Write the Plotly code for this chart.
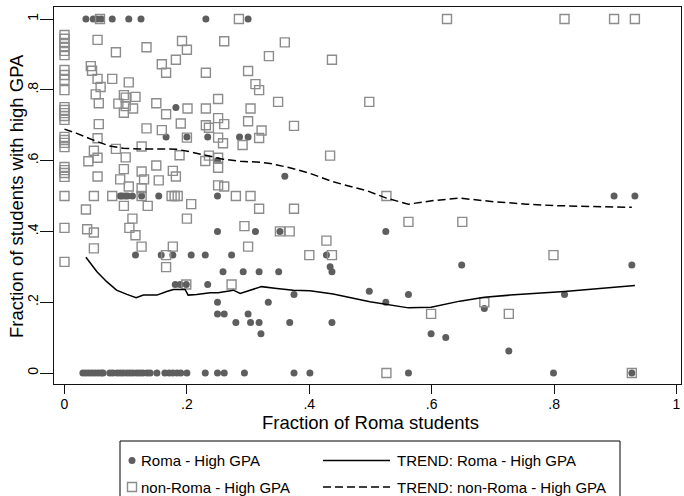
import plotly.graph_objects as go

# ---- data ---------------------------------------------------------------
# Roma students: share with high GPA by class share of Roma students
roma_x = [0.035, 0.047, 0.053, 0.060, 0.078, 0.105, 0.125, 0.231, 0.300,
          0.182,
          0.166, 0.200, 0.234, 0.286, 0.300,
          0.250, 0.360,
          0.091, 0.094, 0.099, 0.103, 0.111, 0.126, 0.154, 0.250,
          0.250, 0.312, 0.352, 0.525,
          0.116, 0.158, 0.177, 0.207, 0.230, 0.273, 0.428,
          0.259, 0.292, 0.318, 0.350, 0.437, 0.434,
          0.181, 0.189, 0.199, 0.234,
          0.498, 0.375, 0.562, 0.817,
          0.250, 0.333, 0.525,
          0.250, 0.261, 0.300,
          0.280, 0.304, 0.318, 0.368, 0.437,
          0.321, 0.686, 0.599, 0.623, 0.726,
          0.649, 0.927, 0.898, 0.932,
          0.030, 0.035, 0.040, 0.045, 0.050, 0.055, 0.060, 0.063, 0.074,
          0.079, 0.086, 0.091, 0.096, 0.102, 0.107, 0.112, 0.118, 0.123,
          0.128, 0.135, 0.140, 0.151, 0.164, 0.171, 0.177, 0.184, 0.190,
          0.200, 0.230, 0.250, 0.261, 0.294, 0.375, 0.401, 0.562, 0.799,
          0.927]
roma_y = [1, 1, 1, 1, 1, 1, 1, 1, 1,
          0.750,
          0.667, 0.667, 0.667, 0.667, 0.667,
          0.600, 0.556,
          0.5, 0.5, 0.5, 0.5, 0.5, 0.5, 0.5, 0.5,
          0.4, 0.4, 0.4, 0.4,
          0.333, 0.333, 0.333, 0.333, 0.333, 0.333, 0.333,
          0.286, 0.286, 0.286, 0.286, 0.286, 0.300,
          0.25, 0.25, 0.25, 0.25,
          0.231, 0.222, 0.222, 0.222,
          0.2, 0.2, 0.2,
          0.167, 0.167, 0.167,
          0.143, 0.143, 0.143, 0.143, 0.143,
          0.111, 0.182, 0.111, 0.100, 0.0625,
          0.305, 0.305, 0.5, 0.5,
          0, 0, 0, 0, 0, 0, 0, 0, 0,
          0, 0, 0, 0, 0, 0, 0, 0, 0,
          0, 0, 0, 0, 0, 0, 0, 0, 0,
          0, 0, 0, 0, 0, 0, 0, 0, 0,
          0]

# non-Roma students
nonroma_x = [0.0] * 26 + [
    0.058, 0.285, 0.625, 0.817, 0.898, 0.932,
    0.054, 0.084, 0.134, 0.192, 0.200, 0.182, 0.159, 0.166, 0.231, 0.043,
    0.045, 0.054, 0.078, 0.105, 0.059, 0.051, 0.056, 0.097, 0.100, 0.116,
    0.088, 0.100, 0.112, 0.097, 0.150, 0.166, 0.201, 0.231, 0.190, 0.056,
    0.134, 0.159, 0.231, 0.236,
    0.261, 0.360, 0.334, 0.437, 0.300, 0.312, 0.318, 0.251, 0.304, 0.349,
    0.498, 0.251, 0.261, 0.300, 0.322, 0.375,
    0.054, 0.048, 0.054, 0.039, 0.084, 0.100, 0.126, 0.188, 0.230, 0.097,
    0.126, 0.150, 0.177, 0.182, 0.054, 0.091, 0.130, 0.154, 0.105, 0.126,
    0.126, 0.078, 0.175, 0.180, 0.185, 0.048, 0.035, 0.097, 0.136, 0.207,
    0.111, 0.200, 0.106, 0.037, 0.048, 0.116, 0.048, 0.126, 0.177, 0.200,
    0.251, 0.259, 0.291, 0.318, 0.434, 0.236, 0.251, 0.251, 0.251, 0.261,
    0.280, 0.304, 0.318, 0.375, 0.294, 0.352, 0.368, 0.428, 0.300,
    0.400, 0.437, 0.273, 0.166, 0.166, 0.199,
    0.526, 0.562, 0.650, 0.799, 0.686, 0.599, 0.726, 0.526, 0.927]
nonroma_y = [0.955, 0.944, 0.932, 0.921, 0.910, 0.898, 0.856, 0.842, 0.828,
             0.799, 0.751, 0.743, 0.734, 0.726, 0.715, 0.667, 0.658, 0.650,
             0.638, 0.582, 0.573, 0.565, 0.554, 0.5, 0.41, 0.314] + [
    1, 1, 1, 1, 1, 1,
    0.941, 0.906, 0.920, 0.938, 0.913, 0.885, 0.872, 0.848, 0.848, 0.867,
    0.854, 0.831, 0.831, 0.821, 0.808, 0.787, 0.762, 0.785, 0.778, 0.780,
    0.761, 0.754, 0.747, 0.735, 0.762, 0.731, 0.747, 0.747, 0.705, 0.703,
    0.691, 0.686, 0.700, 0.693,
    0.937, 0.934, 0.895, 0.885, 0.853, 0.816, 0.799, 0.774, 0.747, 0.766,
    0.766, 0.720, 0.703, 0.711, 0.685, 0.698,
    0.663, 0.628, 0.608, 0.598, 0.633, 0.609, 0.640, 0.615, 0.599, 0.576,
    0.569, 0.586, 0.571, 0.555, 0.555, 0.547, 0.547, 0.544, 0.527, 0.522,
    0.5, 0.5, 0.5, 0.5, 0.5, 0.5, 0.462, 0.472, 0.472, 0.477,
    0.436, 0.436, 0.410, 0.406, 0.397, 0.389, 0.352, 0.357, 0.357, 0.665,
    0.665, 0.649, 0.644, 0.664, 0.614, 0.614, 0.608, 0.580, 0.530, 0.527,
    0.5, 0.5, 0.464, 0.464, 0.415, 0.4, 0.4, 0.374, 0.357,
    0.333, 0.333, 0.25, 0.333, 0.299, 0.25,
    0.5, 0.427, 0.427, 0.333, 0.2, 0.167, 0.167, 0, 0]

# smoothed trends
trend_roma_x = [0.035, 0.053, 0.069, 0.085, 0.102, 0.117, 0.129, 0.151,
                0.167, 0.178, 0.197, 0.202, 0.216, 0.238, 0.251, 0.276,
                0.287, 0.303, 0.322, 0.347, 0.374, 0.401, 0.439, 0.499,
                0.525, 0.562, 0.599, 0.646, 0.686, 0.728, 0.817, 0.932]
trend_roma_y = [0.327, 0.286, 0.258, 0.234, 0.222, 0.213, 0.220, 0.220,
                0.230, 0.236, 0.236, 0.220, 0.222, 0.227, 0.227, 0.234,
                0.225, 0.234, 0.244, 0.239, 0.234, 0.232, 0.223, 0.201,
                0.194, 0.184, 0.186, 0.203, 0.214, 0.220, 0.230, 0.247]

trend_nonroma_x = [0.000, 0.020, 0.047, 0.074, 0.096, 0.123, 0.156, 0.183,
                   0.205, 0.238, 0.259, 0.287, 0.314, 0.336, 0.368, 0.401,
                   0.439, 0.494, 0.526, 0.562, 0.603, 0.646, 0.701, 0.755,
                   0.799, 0.864, 0.927]
trend_nonroma_y = [0.689, 0.677, 0.658, 0.641, 0.635, 0.633, 0.633, 0.632,
                   0.625, 0.611, 0.604, 0.598, 0.596, 0.592, 0.580, 0.564,
                   0.540, 0.515, 0.494, 0.477, 0.487, 0.494, 0.484, 0.477,
                   0.473, 0.470, 0.468]

tick_vals = [0, 0.2, 0.4, 0.6, 0.8, 1]
tick_text = ["0", ".2", ".4", ".6", ".8", "1"]

legend_labels = ["Roma - High GPA", "non-Roma - High GPA",
                 "TREND: Roma - High GPA", "TREND: non-Roma - High GPA"]

# ---- styling ------------------------------------------------------------
W, H = 684, 496
M_L, M_R, M_T, M_B = 54, 3, 7, 112
FONT = "Liberation Sans, Arial, sans-serif"
DOT = "#5e5e5e"
SQ = "#8c8c8c"


def px_x(p):
    return (p - M_L) / (W - M_L - M_R)


def px_y(p):
    return (H - M_B - p) / (H - M_T - M_B)


fig = go.Figure()
fig.add_trace(go.Scatter(x=roma_x, y=roma_y, mode="markers", name=legend_labels[0],
                         marker=dict(symbol="circle", size=7, color=DOT, line=dict(width=0))))
fig.add_trace(go.Scatter(x=nonroma_x, y=nonroma_y, mode="markers", name=legend_labels[1],
                         marker=dict(symbol="square-open", size=9, color=SQ, line=dict(width=1.4))))
fig.add_trace(go.Scatter(x=trend_roma_x, y=trend_roma_y, mode="lines", name=legend_labels[2],
                         line=dict(color="black", width=1.5)))
fig.add_trace(go.Scatter(x=trend_nonroma_x, y=trend_nonroma_y, mode="lines", name=legend_labels[3],
                         line=dict(color="black", width=1.5, dash="8px,4px")))

axis_common = dict(showgrid=False, zeroline=False, showline=True, linecolor="#111",
                   linewidth=1.3, mirror=True, ticks="outside", tickcolor="#111",
                   tickwidth=1, tickvals=tick_vals, ticktext=tick_text,
                   tickfont=dict(family=FONT, size=14, color="black"))

fig.update_layout(
    width=W, height=H,
    margin=dict(l=M_L, r=M_R, t=M_T, b=M_B),
    paper_bgcolor="white", plot_bgcolor="white",
    showlegend=False,
    xaxis=dict(range=[-0.01716, 1.00735], ticklen=9, ticklabelstandoff=-2,
               **axis_common),
    yaxis=dict(range=[-0.03107, 1.0339], ticklen=13, tickangle=-90,
               ticklabelstandoff=-4, **axis_common),
)

# axis titles
fig.add_annotation(text="Fraction of Roma students", xref="paper", yref="paper",
                   x=px_x(370), y=px_y(422), xanchor="center", yanchor="middle",
                   showarrow=False, font=dict(family=FONT, size=18.5, color="black"))
fig.add_annotation(text="Fraction of students with high GPA", xref="paper", yref="paper",
                   x=px_x(16), y=px_y(196), xanchor="center", yanchor="middle",
                   textangle=-90, showarrow=False,
                   font=dict(family=FONT, size=18.5, color="black"))

# legend box
shapes = [dict(type="rect", xref="paper", yref="paper",
               x0=px_x(120), x1=px_x(620), y0=px_y(520), y1=px_y(441),
               line=dict(color="black", width=1), fillcolor="rgba(0,0,0,0)")]
row1, row2 = 460.5, 487
shapes.append(dict(type="circle", xref="paper", yref="paper",
                   x0=px_x(128.5), x1=px_x(135.5), y0=px_y(row1 + 3.5), y1=px_y(row1 - 3.5),
                   line=dict(width=0), fillcolor=DOT))
shapes.append(dict(type="rect", xref="paper", yref="paper",
                   x0=px_x(127.5), x1=px_x(136.5), y0=px_y(row2 + 4.5), y1=px_y(row2 - 4.5),
                   line=dict(color=SQ, width=1.4), fillcolor="rgba(0,0,0,0)"))
shapes.append(dict(type="line", xref="paper", yref="paper",
                   x0=px_x(323), x1=px_x(390), y0=px_y(row1), y1=px_y(row1),
                   line=dict(color="black", width=1.5)))
shapes.append(dict(type="line", xref="paper", yref="paper",
                   x0=px_x(323), x1=px_x(390), y0=px_y(row2), y1=px_y(row2),
                   line=dict(color="black", width=1.5, dash="8px,4px")))
fig.update_layout(shapes=shapes)

for label, lx, ly in [(legend_labels[0], 139, row1), (legend_labels[1], 139, row2),
                      (legend_labels[2], 395, row1), (legend_labels[3], 395, row2)]:
    fig.add_annotation(text=label, xref="paper", yref="paper", x=px_x(lx), y=px_y(ly),
                       xanchor="left", yanchor="middle", showarrow=False,
                       font=dict(family=FONT, size=15, color="black"))

fig.write_html("out.html")
